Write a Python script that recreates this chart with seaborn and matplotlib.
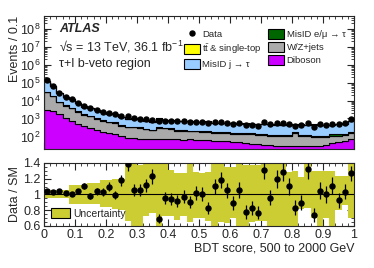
import numpy as np
import pandas as pd
import matplotlib
matplotlib.use("Agg")
import matplotlib.pyplot as plt
import seaborn as sns
from matplotlib.patches import Patch
from matplotlib.lines import Line2D
from matplotlib.ticker import MultipleLocator, NullFormatter, FixedLocator, FixedFormatter

# --- Data (BDT score, 50 bins of 0.02, "Events / 0.1") ---
bin_edges = np.linspace(0, 1, 51)

data_counts = [130000, 65000, 27000, 16000, 12000, 7500, 5200, 4000, 3100, 2400,
               2100, 1800, 1450, 1300, 1100, 980, 880, 850, 700, 760,
               740, 700, 690, 640, 660, 640, 560, 650, 660, 590,
               510, 570, 420, 430, 400, 640, 470, 560, 590, 520,
               400, 420, 580, 350, 470, 450, 500, 480, 560, 900]

ttbar = [2500, 1500, 700, 450, 350, 220, 150, 130, 100, 80,
         65, 60, 45, 35, 35, 32, 28, 25, 30, 25,
         25, 22, 22, 25, 22, 20, 22, 25, 20, 20,
         22, 20, 18, 18, 18, 20, 25, 30, 30, 25,
         20, 18, 18, 18, 18, 18, 20, 20, 22, 25]

misid_jet = [91000, 42600, 16850, 9950, 7730, 4530, 2840, 2560, 1860, 1445,
             1200, 1160, 755, 560, 655, 583, 487, 423, 650, 470,
             483, 518, 463, 475, 418, 422, 466, 385, 372, 370,
             390, 360, 376, 344, 366, 332, 340, 314, 315, 319,
             285, 327, 296, 348, 327, 322, 300, 365, 378, 510]

misid_lep = [1500, 900, 450, 300, 220, 150, 110, 90, 70, 55,
             45, 40, 30, 25, 30, 25, 25, 22, 30, 25,
             22, 20, 25, 20, 20, 18, 22, 20, 18, 20,
             18, 20, 16, 18, 16, 18, 15, 16, 15, 16,
             25, 15, 16, 14, 15, 15, 30, 25, 20, 25]

wzjets = [27000, 15500, 6300, 3900, 2850, 1800, 1220, 1000, 720, 570,
          450, 430, 300, 235, 240, 220, 180, 152, 225, 208,
          190, 132, 135, 120, 125, 118, 110, 102, 95, 95,
          88, 90, 85, 100, 82, 85, 78, 80, 70, 82,
          120, 82, 82, 60, 60, 60, 55, 60, 65, 80]

diboson = [3000, 2500, 1700, 1100, 750, 500, 380, 300, 230, 180,
           150, 130, 100, 85, 80, 70, 70, 68, 75, 72,
           70, 68, 65, 70, 65, 62, 60, 58, 55, 55,
           52, 50, 45, 40, 38, 35, 32, 30, 30, 28,
           30, 28, 28, 30, 30, 35, 45, 50, 55, 70]

# relative uncertainty band (up / down)
unc_up = [0.06, 0.06, 0.06, 0.06, 0.12, 0.12, 0.12, 0.14, 0.14, 0.18,
          0.18, 0.20, 0.20, 0.50, 0.50, 0.38, 0.50, 0.50, 0.50, 0.50,
          0.31, 0.27, 0.27, 0.50, 0.28, 0.27, 0.28, 0.50, 0.50, 0.35,
          0.35, 0.50, 0.37, 0.37, 0.37, 0.50, 0.50, 0.50, 0.50, 0.29,
          0.30, 0.22, 0.50, 0.30, 0.30, 0.30, 0.30, 0.24, 0.24, 0.50]
unc_down = [0.05, 0.05, 0.05, 0.05, 0.12, 0.12, 0.12, 0.12, 0.12, 0.16,
            0.16, 0.18, 0.20, 0.34, 0.50, 0.50, 0.28, 0.23, 0.50, 0.28,
            0.28, 0.32, 0.27, 0.35, 0.30, 0.30, 0.34, 0.50, 0.35, 0.36,
            0.30, 0.50, 0.50, 0.35, 0.34, 0.34, 0.50, 0.50, 0.50, 0.50,
            0.50, 0.18, 0.17, 0.30, 0.50, 0.30, 0.50, 0.20, 0.14, 0.30]

process_names = ["tt_single_top", "misid_jet", "misid_lep", "wzjets", "diboson"]
process_labels = [r"$\mathrm{t\bar{t}}$ & single-top", "MisID j → τ",
                  "MisID e/μ → τ", "W/Z+jets", "Diboson"]
process_colors = ["#ffff00", "#99ccff", "#006600", "#aaaaaa", "#cc00ff"]

# --- Style ---
sns.set_style("ticks")
plt.rcParams["font.family"] = ["Liberation Sans", "DejaVu Sans"]
plt.rcParams["mathtext.fontset"] = "custom"
plt.rcParams["mathtext.rm"] = "Liberation Sans"
plt.rcParams["mathtext.it"] = "Liberation Sans:italic"
plt.rcParams["mathtext.bf"] = "Liberation Sans:bold"
for ax_name in ["xtick", "ytick"]:
    plt.rcParams[f"{ax_name}.direction"] = "in"
    plt.rcParams[f"{ax_name}.major.size"] = 5
    plt.rcParams[f"{ax_name}.minor.size"] = 2.5
    plt.rcParams[f"{ax_name}.major.width"] = 0.8
    plt.rcParams[f"{ax_name}.minor.width"] = 0.6
    plt.rcParams[f"{ax_name}.labelsize"] = 9
    plt.rcParams[f"{ax_name}.major.pad"] = 2.5
plt.rcParams["xtick.top"] = True
plt.rcParams["ytick.right"] = True

# --- Build table for the stack ---
centers = 0.5 * (bin_edges[1:] + bin_edges[:-1])
series = dict(zip(process_names, [ttbar, misid_jet, misid_lep, wzjets, diboson]))
df = pd.concat([pd.DataFrame({"x": centers, "w": vals, "proc": name})
                for name, vals in series.items()], ignore_index=True)

data_arr = np.array(data_counts, dtype=float)
sm_total = np.sum([np.array(v, dtype=float) for v in series.values()], axis=0)
data_err = np.sqrt(5 * data_arr)  # stat. error, bins are 0.02 wide, shown per 0.1

fig = plt.figure(figsize=(3.74, 2.68), dpi=100)
ax = fig.add_axes([0.1176, 0.444, 0.829, 0.496])
ax2 = fig.add_axes([0.1176, 0.157, 0.829, 0.235])

# --- Top panel: stacked backgrounds + data ---
sns.histplot(data=df, x="x", weights="w", hue="proc", hue_order=process_names,
             multiple="stack", bins=50, binrange=(0, 1), element="step",
             palette=dict(zip(process_names, process_colors)),
             edgecolor="black", linewidth=0.8, alpha=1, legend=False, ax=ax)
ax.errorbar(centers, data_arr, yerr=data_err, fmt="o", color="black",
            ms=3.6, elinewidth=0.9, capsize=0, zorder=10)

ax.set_yscale("log")
ax.set_ylim(20, 5e8)
ax.set_xlim(0, 1)
# only ticks inside the visible range, so no hidden labels hang below the panel
decades = [10.0 ** k for k in range(2, 9)]
ax.yaxis.set_major_locator(FixedLocator(decades))
ax.yaxis.set_major_formatter(FixedFormatter([f"$10^{{{k}}}$" for k in range(2, 9)]))
minor_y = [m * 10.0 ** k for k in range(1, 9) for m in range(2, 10) if 20 <= m * 10.0 ** k <= 5e8]
ax.yaxis.set_minor_locator(FixedLocator(minor_y))
ax.yaxis.set_minor_formatter(NullFormatter())
ax.xaxis.set_major_locator(MultipleLocator(0.1))
ax.xaxis.set_minor_locator(MultipleLocator(0.02))
ax.tick_params(labelbottom=False)
ax.set_xlabel("")
ax.set_ylabel("Events / 0.1", fontsize=9, loc="top")
ax.yaxis.set_label_coords(-0.075, 1.0)

ax.text(0.05, 0.9, "ATLAS", transform=ax.transAxes, fontsize=9,
        fontweight="bold", fontstyle="italic", va="center")
ax.text(0.05, 0.765, "√s = 13 TeV, 36.1 fb$^{-1}$", transform=ax.transAxes,
        fontsize=9, va="center")
ax.text(0.05, 0.64, "τ+l b-veto region", transform=ax.transAxes,
        fontsize=9, va="center")

handles = [Line2D([], [], marker="o", color="black", ls="none", ms=3.6),
           Patch(facecolor=process_colors[0], edgecolor="black", lw=0.8),
           Patch(facecolor=process_colors[1], edgecolor="black", lw=0.8),
           Patch(facecolor=process_colors[2], edgecolor="black", lw=0.8),
           Patch(facecolor=process_colors[3], edgecolor="black", lw=0.8),
           Patch(facecolor=process_colors[4], edgecolor="black", lw=0.8)]
labels = ["Data", process_labels[0], process_labels[1],
          process_labels[2], process_labels[3], process_labels[4]]
ax.legend(handles, labels, ncol=2, loc="upper right", bbox_to_anchor=(1.0, 0.965),
          frameon=False, fontsize=6.8, handlelength=1.7, handleheight=1.25,
          columnspacing=0.6, handletextpad=0.3, labelspacing=0.3)

# --- Ratio panel ---
ratio = data_arr / sm_total
ratio_err = data_err / sm_total
ax2.stairs(1 + np.array(unc_up), bin_edges, baseline=1 - np.array(unc_down),
           fill=True, color="#cccc33", lw=0)
ax2.axhline(1, color="black", lw=0.8)
ax2.errorbar(centers, ratio, yerr=ratio_err, fmt="o", color="black",
             ms=3.6, elinewidth=0.9, capsize=0, zorder=10)
ax2.set_xlim(0, 1)
ax2.set_ylim(0.6, 1.4)
ax2.yaxis.set_major_locator(FixedLocator([0.6, 0.8, 1.0, 1.2, 1.4]))
ax2.yaxis.set_major_formatter(FixedFormatter(["0.6", "0.8", "1", "1.2", "1.4"]))
ax2.yaxis.set_minor_locator(MultipleLocator(0.05))
ax2.tick_params(axis="y", labelsize=9)
ax2.set_xticks(np.linspace(0, 1, 11))
ax2.set_xticklabels(["0", "0.1", "0.2", "0.3", "0.4", "0.5", "0.6", "0.7", "0.8", "0.9", "1"])
ax2.xaxis.set_minor_locator(MultipleLocator(0.02))
ax2.set_ylabel("Data / SM", fontsize=9)
ax2.yaxis.set_label_coords(-0.075, 0.5)
ax2.set_xlabel("BDT score, 500 to 2000 GeV", fontsize=9, loc="right", labelpad=1)
ax2.legend([Patch(facecolor="#cccc33", edgecolor="black", lw=0.8)], ["Uncertainty"],
           loc="lower left", frameon=False, fontsize=7.5, handlelength=1.8,
           handleheight=1.1, handletextpad=0.3, borderaxespad=0.3)

fig.savefig("out.png", dpi=100)
